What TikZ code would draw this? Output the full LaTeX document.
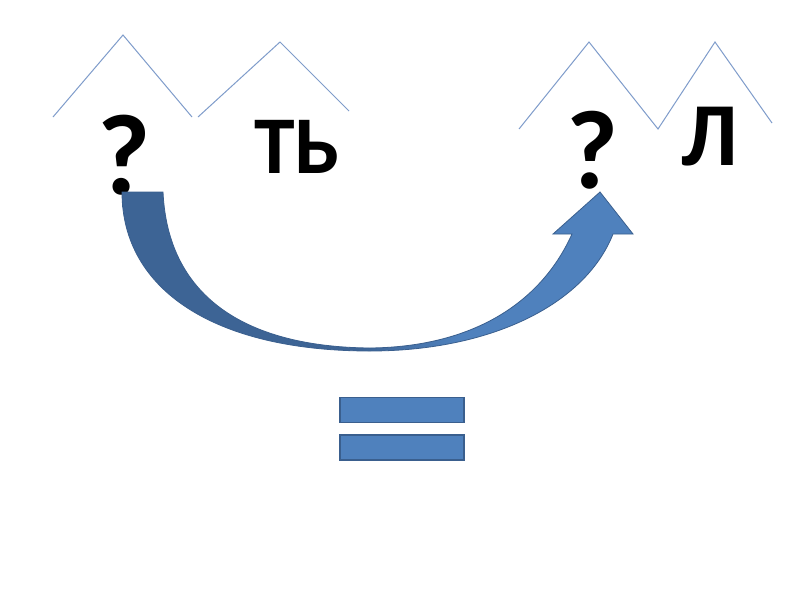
\documentclass[tikz,border=0pt]{standalone}
\usepackage{fontspec}
\setmainfont{Carlito}
\definecolor{roofblue}{HTML}{7F9CCB}
\definecolor{arrowdark}{HTML}{3D6495}
\definecolor{arrowlight}{HTML}{4F81BD}
\definecolor{edgeblue}{HTML}{3A5F8E}
\pgfdeclarehorizontalshading{arcshade}{100bp}{color(0bp)=(arrowdark); color(48bp)=(arrowdark); color(58bp)=(arrowlight); color(100bp)=(arrowlight)}
\begin{document}
\begin{tikzpicture}[
  x=1pt, y=-1pt,
  roof/.style={draw=roofblue, line width=1pt},
  letter/.style={font=\bfseries\fontsize{#1}{#1}\selectfont, inner sep=0pt},
  bar/.style={draw=edgeblue, line width=1.5pt, fill=arrowlight, minimum width=124pt, minimum height=25pt, inner sep=0pt}
]
  \useasboundingbox[fill=white] (0,0) rectangle (800,600);

  % Syllable roofs
  \draw[roof] (53,117) -- (123,35) -- (192,117);
  \draw[roof] (198,117) -- (280,42) -- (349,111);
  \draw[roof] (519,129) -- (589,42) -- (658,129) -- (715,42) -- (772,123);

  % Letters
  \node[letter=115] (q1) at (124,155) {?};
  \node[letter=82] (tsoft) at (297,147) {ТЬ};
  \node[letter=112] (q2) at (592,150) {?};
  \node[letter=90] (el) at (710,137) {Л};

  % Curved arrow
  \draw[edgeblue, line width=0.8pt, shading=arcshade]
    (122,192) .. controls (122,290) and (215,351) .. (370,351)
    .. controls (490,351) and (585,305) .. (613,234)
    -- (633,234) -- (600,192) -- (553,234) -- (572,234)
    .. controls (540,305) and (470,347) .. (370,348)
    .. controls (250,347) and (168,300) .. (163,192) -- cycle;

  % Equals sign
  \node[bar] (eqtop) at (402,410) {};
  \node[bar] (eqbot) at (402,447.5) {};
\end{tikzpicture}
\end{document}
